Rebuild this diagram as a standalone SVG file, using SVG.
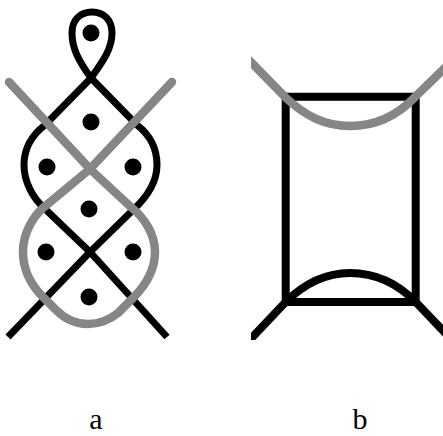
<svg xmlns="http://www.w3.org/2000/svg" width="443" height="436" viewBox="0 0 443 436">
<style>
.k{fill:none;stroke:#000;stroke-width:7;stroke-linejoin:round}
.b{fill:none;stroke:#000;stroke-width:8;stroke-linejoin:round}
.g{fill:none;stroke:#868686;stroke-width:8.500}
.d{fill:#000}
.t{font-family:"Liberation Serif",serif;font-size:30px;fill:#000;text-anchor:middle}
</style>
<defs><clipPath id="c"><rect x="251" y="0" width="192" height="340"/></clipPath></defs>
<rect width="443" height="436" fill="#fff"/>
<g id="connectors">
<path class="k" d="M91 78C78 60 72 48 72 33C72 20 80 12 92 12C104 12 112 20 112 33C112 48 104 60 91 78L45 125C32 135 24 148 24 165C24 182 33 198 44 208L90 252L167 337"/>
<path class="k" d="M91 78L137 125C150 135 157 148 157 165C157 182 146 198 133 210L90 252L8 337"/>
<path class="g" stroke-linecap="round" d="M9 82L90 169L132 208C142 216 155 232 155 252C155 270 146 285 133 298L118 313C108 321 98 324 88 324C78 324 66 320 56 310L43 297C32 286 23 270 23 252C23 232 34 216 43 208L90 169L172 82"/>
<g clip-path="url(#c)">
<path class="b" d="M285.700 96.700H415.700V302H285.700Z"/>
<path class="b" d="M285.700 302C305 283 325 273 350 273C375 273 397 283 415.700 302"/>
<path class="b" d="M285.700 302L245 345M415.700 302L450 338"/>
<path class="g" d="M245 56L285 97C305 116 325 126 350 126C375 126 397 116 415 97L450 63"/>
</g>
</g>
<g id="dots">
<circle class="d" cx="91" cy="33" r="8.500"/>
<circle class="d" cx="91" cy="122" r="8.500"/>
<circle class="d" cx="47" cy="167" r="8.500"/>
<circle class="d" cx="133" cy="167" r="8.500"/>
<circle class="d" cx="89" cy="209" r="8.500"/>
<circle class="d" cx="46" cy="252" r="8.500"/>
<circle class="d" cx="133" cy="252" r="8.500"/>
<circle class="d" cx="89" cy="297" r="8.500"/>
</g>
<text class="t" x="96" y="429">a</text>
<text class="t" x="360" y="429">b</text>
</svg>
